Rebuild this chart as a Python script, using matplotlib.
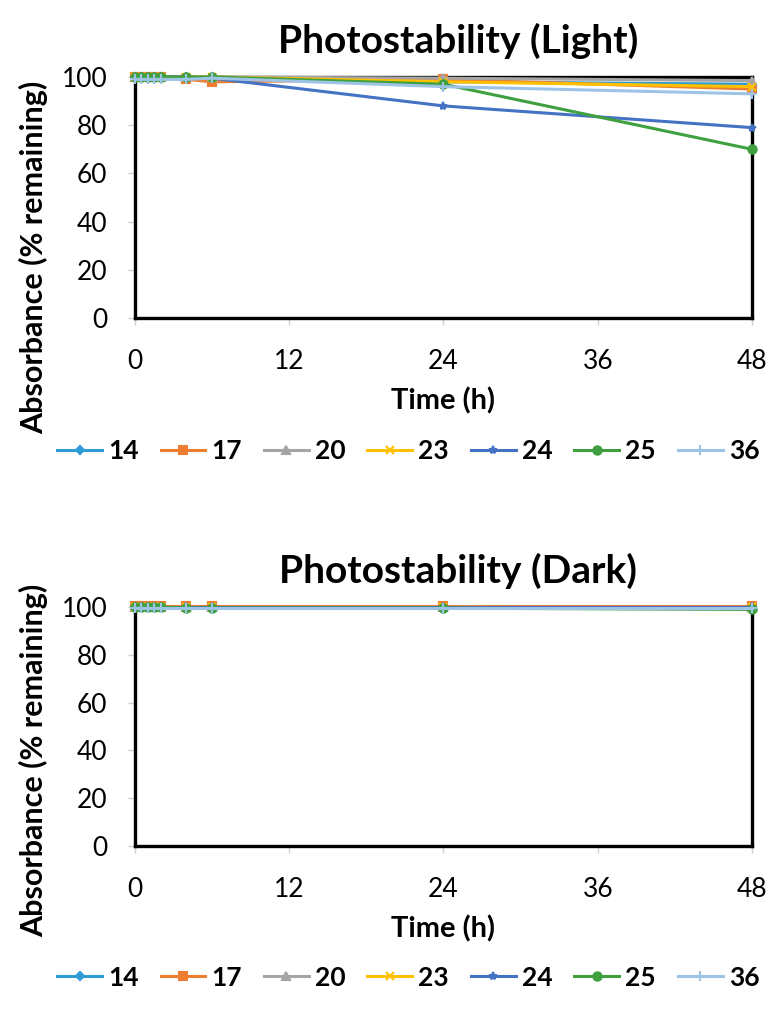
import matplotlib
matplotlib.use("Agg")
import matplotlib.pyplot as plt

plt.rcParams['font.family'] = ['Lato', 'DejaVu Sans']

time_h = [0, 0.5, 1, 1.5, 2, 4, 6, 24, 48]
compounds = ['14', '17', '20', '23', '24', '25', '36']

light_14 = [100, 100, 100, 100, 100, 100, 100, 98, 97]
light_17 = [100, 100, 100, 100, 100, 99, 98, 99, 95]
light_20 = [100, 100, 100, 100, 100, 100, 100, 99.5, 98.5]
light_23 = [100, 100, 100, 100, 100, 100, 100, 98, 96]
light_24 = [100, 100, 100, 100, 100, 100, 99.5, 88, 79]
light_25 = [100, 100, 100, 100, 100, 100, 100, 97, 70]
light_36 = [99, 99, 99, 99, 99, 99, 99.5, 96, 93]

dark_14 = [100, 100, 100, 100, 100, 100, 100, 100, 100]
dark_17 = [100.5, 100.5, 100.5, 100.5, 100.5, 100.5, 100.5, 100.5, 100.5]
dark_20 = [100, 100, 100, 100, 100, 100, 100, 100, 100]
dark_23 = [100, 100, 100, 100, 100, 100, 100, 100, 100]
dark_24 = [100, 100, 100, 100, 100, 100, 100, 100, 100]
dark_25 = [100, 100, 100, 100, 100, 99.5, 99.5, 99.5, 99]
dark_36 = [99.5, 99.5, 99.5, 99.5, 99.5, 99.5, 99.5, 99.5, 99.5]

light = [light_14, light_17, light_20, light_23, light_24, light_25, light_36]
dark = [dark_14, dark_17, dark_20, dark_23, dark_24, dark_25, dark_36]

colors = ['#2F9BD5', '#ED7D31', '#A5A5A5', '#FFC000', '#4472C4', '#3FA03F', '#9DC3E6']
markers = ['D', 's', '^', 'x', '*', 'o', '+']
msizes = [4, 5.5, 6, 6, 6, 6, 7]

fig = plt.figure(figsize=(7.82, 10.09), dpi=100)
ax1 = fig.add_axes([0.1726, 0.6848, 0.789, 0.2389])
ax2 = fig.add_axes([0.1726, 0.1615, 0.789, 0.2369])

for ax, data, title, legy, ylab_y in [(ax1, light, 'Photostability (Light)', 0.553, 0.25),
                                      (ax2, dark, 'Photostability (Dark)', 0.031, 0.36)]:
    handles = []
    for i, (lab, vals) in enumerate(zip(compounds, data)):
        h, = ax.plot(time_h, vals, color=colors[i], marker=markers[i],
                     markersize=msizes[i], linewidth=2.2, label=lab,
                     clip_on=False, zorder=3, markeredgewidth=1.5)
        handles.append(h)
    ax.set_xlim(0, 48)
    ax.set_ylim(0, 100)
    ax.set_xticks([0, 12, 24, 36, 48])
    ax.set_yticks([0, 20, 40, 60, 80, 100])
    for sp in ax.spines.values():
        sp.set_linewidth(2.4)
        sp.set_color('black')
        sp.set_zorder(2)
    ax.tick_params(axis='both', direction='out', length=5, width=1,
                   color='#D0D0D0', labelsize=19)
    ax.tick_params(axis='y', pad=15)
    ax.tick_params(axis='x', pad=17)
    ax.set_title(title, fontsize=28, fontweight='bold', pad=17, x=0.524)
    ax.set_xlabel('Time (h)', fontsize=21, fontweight='bold', labelpad=10)
    ax.set_ylabel('Absorbance (% remaining)', fontsize=22, fontweight='bold')
    ax.yaxis.set_label_coords(-0.141, ylab_y)
    fig.legend(handles=handles, loc='center', bbox_to_anchor=(0.522, legy),
               ncol=7, frameon=False, handlelength=1.7,
               columnspacing=0.83, handletextpad=0.23,
               prop={'weight': 'bold', 'size': 19})

fig.savefig('out.png', dpi=100)
